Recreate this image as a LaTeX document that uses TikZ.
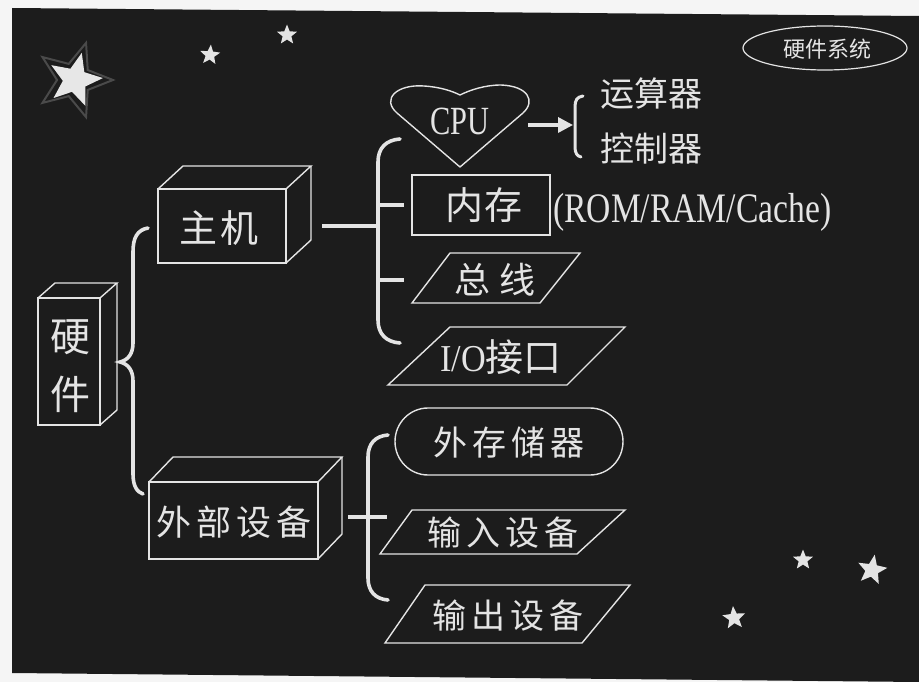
\documentclass[tikz,border=0pt]{standalone}
\usepackage{fontspec}
\setmainfont{Liberation Serif}
\newfontfamily\cjk{Noto Sans CJK SC}
\usetikzlibrary{shapes.geometric,arrows.meta}
\definecolor{bg}{HTML}{1C1C1C}
\definecolor{ink}{HTML}{E4E4E4}
\definecolor{paper}{HTML}{F5F5F5}
\definecolor{glow}{HTML}{4A4A4A}
\newcommand{\cgap}{\hspace{5pt}}
\begin{document}
\begin{tikzpicture}[x=1pt,y=-1pt,
  shapeline/.style={draw=ink,line width=1.4pt,line join=miter},
  bracestyle/.style={draw=ink,line width=3.6pt,line cap=round},
  connector/.style={draw=ink,line width=3.6pt},
  cn/.style={text=ink,font=\cjk\fontsize{#1}{#1}\selectfont,inner sep=0pt},
  sf/.style={text=ink,font=\fontsize{#1}{#1}\selectfont,inner sep=0pt},
  starnode/.style={star,star points=5,star point ratio=2.3,fill=ink,inner sep=0pt,minimum size=#1}]
\useasboundingbox (0,0) rectangle (919,682);
\fill[paper] (0,0) rectangle (919,682);
\fill[bg] (12,8) -- (919,16) -- (919,682) -- (12,673) -- cycle;

% stars
\node[star,star points=5,star point ratio=2.3,draw=glow,line width=2pt,inner sep=0pt,minimum size=78pt,rotate=-18] (bigglow) at (74,80) {};
\node[starnode=56pt,rotate=-14,fill=ink!88] (bigstar) at (75,80) {};
\node[starnode=21pt,rotate=-5] (s1) at (210,55) {};
\node[starnode=21pt] (s2) at (287,35) {};
\node[starnode=21pt] (s3) at (803,560) {};
\node[starnode=31pt,rotate=-10] (s4) at (872,570) {};
\node[starnode=24pt,rotate=5] (s5) at (734,618) {};

% title ellipse
\node[ellipse,draw=ink,line width=1.2pt,minimum width=164pt,minimum height=44pt,inner sep=0pt] (title) at (825,48) {};
\node[cn=22] (titletext) at (827,49) {硬件系统};

% 硬件 box
\draw[shapeline] (38,298) rectangle (100,425);
\draw[shapeline] (38,298) -- (55,283) -- (117,283) -- (100,298);
\draw[shapeline] (117,283) -- (117,410) -- (100,425);
\node[cn=40,align=center] (hw) at (70,366) {硬\\[18pt]件};

% big brace
\coordinate (b1top) at (148,228);
\coordinate (b1tip) at (120,362);
\coordinate (b1bot) at (143,494);
\draw[bracestyle] (b1top) .. controls (137,230) and (133,238) .. (133,252) -- (133,343)
  .. controls (133,354) and (128,360) .. (b1tip) .. controls (128,364) and (133,370) .. (133,381)
  -- (133,474) .. controls (133,486) and (137,492) .. (b1bot);

% 主机 box
\draw[shapeline] (158,189) rectangle (286,263);
\draw[shapeline] (158,189) -- (183,166) -- (311,166) -- (286,189);
\draw[shapeline] (311,166) -- (311,240) -- (286,263);
\node[cn=38] (zj) at (219,228) {主\hspace{4pt}机};

% brace for 主机
\coordinate (zjout) at (322,226);
\coordinate (b2mid) at (378,226);
\draw[connector] (zjout) -- (b2mid);
\coordinate (b2top) at (400,139);
\coordinate (b2bot) at (400,343);
\draw[bracestyle] (b2top) .. controls (386,140) and (378,148) .. (378,162) -- (378,320)
  .. controls (378,334) and (386,342) .. (b2bot);
\coordinate (t1a) at (378,205); \coordinate (t1b) at (404,205);
\coordinate (t2a) at (378,280); \coordinate (t2b) at (404,280);
\draw[connector] (t1a) -- (t1b);
\draw[connector] (t2a) -- (t2b);

% CPU heart
\draw[shapeline,line join=round] (460,167) -- (397,113) .. controls (381,99) and (397,84) .. (424,86)
  .. controls (440,87) and (452,91) .. (460,95) .. controls (470,90) and (485,85) .. (501,85)
  .. controls (528,86) and (536,101) .. (523,113) -- cycle;
\node[sf=40,xscale=0.76] (cpu) at (460,121) {CPU};
\coordinate (cpuR) at (528,125);
\coordinate (bk) at (573,125);
\draw[draw=ink,line width=3.4pt,-{Triangle[length=15pt,width=15pt]}] (cpuR) -- (bk);
\draw[bracestyle,line width=3pt] (583,96) .. controls (577,97) and (575,100) .. (575,107) -- (575,147)
  .. controls (575,153) and (577,156) .. (581,157);
\node[cn=34] (ys) at (651,94) {运算器};
\node[cn=34] (kz) at (651,149) {控制器};

% 内存
\draw[shapeline] (412,175) rectangle (550,235);
\node[cn=38] (nc) at (484,205) {内\hspace{2pt}存};
\node[sf=42,xscale=0.8,anchor=west] (rom) at (553,212) {(ROM/RAM/Cache)};

% 总线
\draw[shapeline] (412,303) -- (450,253) -- (580,253) -- (540,303) -- cycle;
\node[cn=36] (zx) at (495,280) {总\hspace{10pt}线};

% I/O接口
\draw[shapeline] (388,385) -- (450,327) -- (625,327) -- (567,385) -- cycle;
\node[text=ink,inner sep=0pt] (io) at (501,357) {\fontsize{38}{38}\selectfont\scalebox{0.9}[1]{I/O}\cjk 接口};

% 外部设备 box
\draw[shapeline] (149,482) rectangle (318,559);
\draw[shapeline] (149,482) -- (173,457) -- (342,457) -- (318,482);
\draw[shapeline] (342,457) -- (342,534) -- (318,559);
\node[cn=35] (wb) at (234,522) {外\cgap 部\cgap 设\cgap 备};

% brace for 外部设备
\coordinate (wbout) at (348,517);
\coordinate (b3cross) at (387,517);
\draw[connector] (wbout) -- (b3cross);
\coordinate (b3top) at (388,435);
\coordinate (b3bot) at (388,600);
\draw[bracestyle] (b3top) .. controls (375,436) and (368,444) .. (368,457) -- (368,578)
  .. controls (368,591) and (375,599) .. (b3bot);

% 外存储器
\draw[shapeline] (428,408) -- (590,408) arc[start angle=-90,end angle=90,x radius=33pt,y radius=-33.5pt] -- (428,475)
  arc[start angle=90,end angle=270,x radius=33pt,y radius=-33.5pt] -- cycle;
\node[cn=34] (wc) at (509,443) {外\cgap 存\cgap 储\cgap 器};

% 输入设备
\draw[shapeline] (380,554) -- (412,510) -- (625,510) -- (577,554) -- cycle;
\node[cn=34] (sr) at (503,533) {输\cgap 入\cgap 设\cgap 备};

% 输出设备
\draw[shapeline] (385,643) -- (425,585) -- (630,585) -- (582,643) -- cycle;
\node[cn=34] (sc) at (508,616) {输\cgap 出\cgap 设\cgap 备};
\end{tikzpicture}
\end{document}
